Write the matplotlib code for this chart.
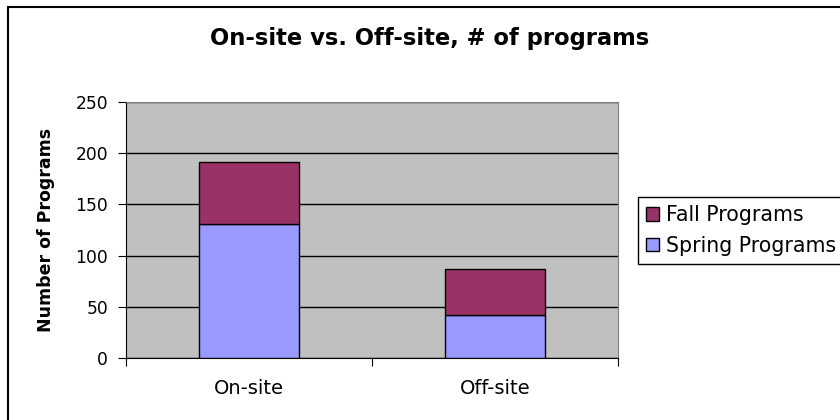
import matplotlib
matplotlib.use("Agg")
from matplotlib import pyplot as plt
from matplotlib.patches import Rectangle

# values
categories = ["On-site", "Off-site"]
spring = [131, 42]
fall = [60, 45]

plt.rcParams['font.family'] = ['DejaVu Sans']

fig = plt.figure(figsize=(8.4, 4.2), dpi=100)
ax = fig.add_axes([126 / 840, 62 / 420, 492 / 840, 256 / 420])
ax.set_facecolor('#C0C0C0')

x = list(range(len(categories)))
ax.bar(x, spring, width=0.405, color='#9999FF', edgecolor='black', linewidth=1,
       label='Spring Programs', zorder=3)
ax.bar(x, fall, width=0.405, bottom=spring, color='#993366', edgecolor='black',
       linewidth=1, label='Fall Programs', zorder=3)

ax.set_xlim(-0.5, 1.5)
ax.set_ylim(0, 250)
ax.set_yticks(range(0, 251, 50))
ax.yaxis.grid(True, color='black', linewidth=1)
ax.set_axisbelow(True)

# category boundaries as ticks, names in the middle
ax.set_xticks([-0.5, 0.5, 1.5])
ax.set_xticklabels([])
ax.set_xticks(x, minor=True)
ax.set_xticklabels(categories, minor=True, fontsize=14)
ax.tick_params(axis='x', which='major', length=6, color='black', direction='out')
ax.tick_params(axis='x', which='minor', length=0, pad=15)
ax.tick_params(axis='y', length=6, pad=7, labelsize=12.3)

for side in ['top', 'right']:
    ax.spines[side].set_color('#808080')
for side in ['left', 'bottom']:
    ax.spines[side].set_color('black')

fig.text(430 / 840, 1 - 38 / 420, "On-site vs. Off-site, # of programs",
         ha='center', va='center', fontsize=16.3, fontweight='bold')
fig.text(46 / 840, 1 - 230 / 420, "Number of Programs", rotation=90,
         ha='center', va='center', fontsize=12.5, fontweight='bold')

handles, labels = ax.get_legend_handles_labels()
leg = fig.legend(handles[::-1], labels[::-1], loc='upper left',
                 bbox_to_anchor=(638 / 840, 1 - 197 / 420), fontsize=14.8,
                 fancybox=False, shadow=False, framealpha=1, edgecolor='black',
                 handlelength=0.6, handleheight=0.6, handletextpad=0.35,
                 borderpad=0.4, labelspacing=0.5, borderaxespad=0)
leg.get_frame().set_linewidth(1)

fig.patches.append(Rectangle((7.5 / 840, -0.1), 1.2, 1.1 - 6.7 / 420,
                             transform=fig.transFigure, fill=False,
                             edgecolor='black', linewidth=1.5))

fig.savefig('out.png', dpi=100)
